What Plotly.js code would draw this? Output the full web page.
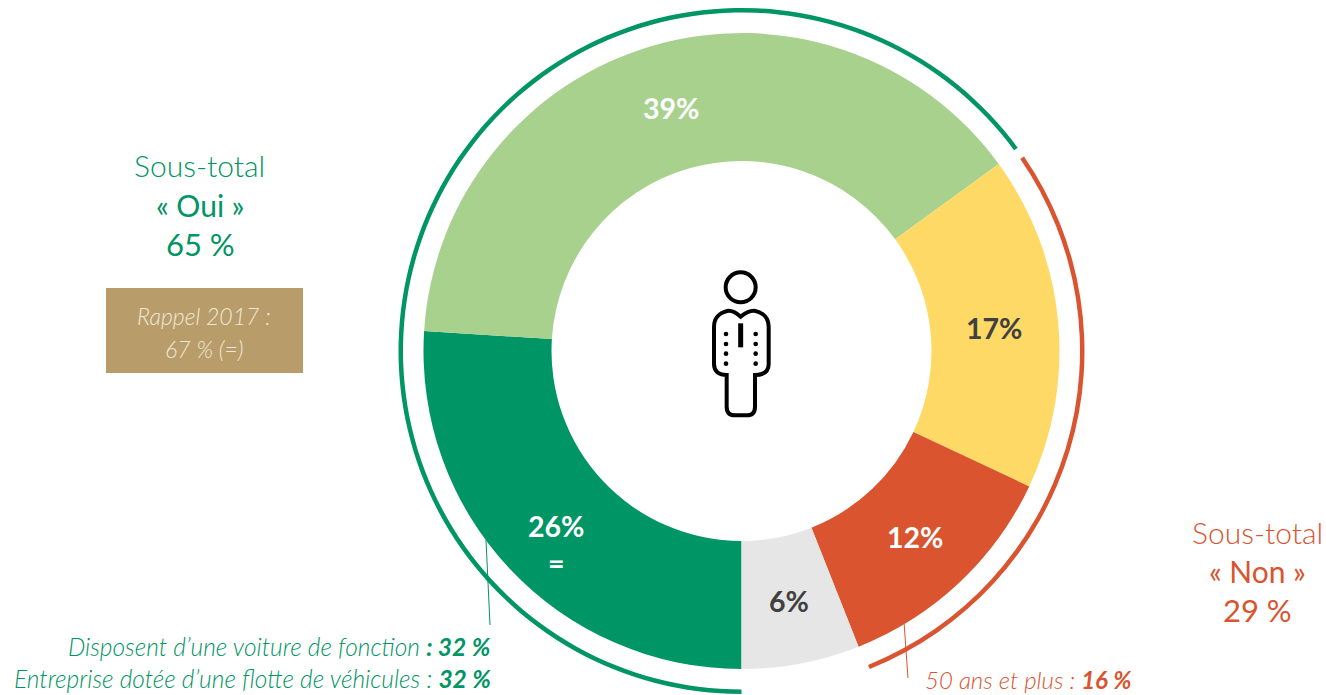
<!DOCTYPE html>
<html lang="fr">
<head>
<meta charset="utf-8">
<title>Sous-total Oui / Non</title>
<script src="https://cdn.plot.ly/plotly-3.0.1.min.js"></script>
<style>html,body{margin:0;padding:0;background:#fff;overflow:hidden}#chart{width:1326px;height:695px}</style>
</head>
<body>
<div id="chart"></div>
<script>
// Data
const sliceNames = ["Oui, tout à fait", "Oui, plutôt", "Non, plutôt pas", "Non, pas du tout", "Ne se prononce pas"];
const sliceValues = [26, 39, 17, 12, 6];
const sliceLabels = ["26%", "39%", "17%", "12%", "6%"];
const sliceMarks = ["=", "", "", "", ""];
const sliceColors = ["#009564", "#A9D18E", "#FFD966", "#D9542F", "#E7E6E6"];
const sliceTextColors = ["#ffffff", "#ffffff", "#404040", "#ffffff", "#404040"];
const arcNames = ["Oui", "gap", "Non", "rest"];
const arcValues = [64.9, 0.5, 28.5, 6.1];
const arcColors = ["#009564", "rgba(0,0,0,0)", "#D9542F", "rgba(0,0,0,0)"];

const W = 1326, H = 695, CX = 741.5, CY = 351;
const R_OUT = 318, R_IN = 190, R_ARC = 343;
const GREEN = "#009564", RED = "#D9542F", FONT = "Lato, 'Open Sans', sans-serif";
const NN = "\u202F";
const px = x => x / W, py = y => 1 - y / H;
const domain = r => ({x: [px(CX - r), px(CX + r)], y: [py(CY + r), py(CY - r)]});

function note(x, y, text, color, size, anchor, weight) {
  return {xref: "paper", yref: "paper", x: px(x), y: py(y), text: text, showarrow: false,
    xanchor: anchor || "center", yanchor: "middle", align: "center",
    font: {family: FONT, size: size, color: color, weight: weight || 300}};
}
function line(x0, y0, x1, y1, color, width) {
  return {type: "line", xref: "paper", yref: "paper", x0: px(x0), y0: py(y0), x1: px(x1), y1: py(y1),
    line: {color: color, width: width}};
}

// Slice labels sit at the middle of each ring segment, found from the values
const total = sliceValues.reduce((a, b) => a + b, 0);
let running = 0;
const sliceNotes = [];
sliceValues.forEach((v, i) => {
  const mid = (180 + (running + v / 2) / total * 360) * Math.PI / 180;
  running += v;
  const r = (R_OUT + R_IN) / 2;
  const x = CX + r * Math.sin(mid), y = CY - r * Math.cos(mid) + 0.5;
  if (sliceMarks[i]) {
    sliceNotes.push(note(x, y + 19, sliceLabels[i] + "<br>" + sliceMarks[i], sliceTextColors[i], 28.5, "center", 700));
  } else {
    sliceNotes.push(note(x, y, sliceLabels[i], sliceTextColors[i], 28.5, "center", 700));
  }
});

// Icon: outline traced in a local frame, mapped to the page
const ix = x => (690 + x / 3), iy = y => (260 + y / 3);
const P = (x, y) => px(ix(x)) + "," + py(iy(y));
const BLACK = "#000000";
const bodyPath = "M" + P(152,170) + " C" + P(140,160) + " " + P(125,150) + " " + P(112,153) +
  " C" + P(88,158) + " " + P(72,175) + " " + P(72,200) + " L" + P(72,312) +
  " C" + P(72,335) + " " + P(88,345) + " " + P(110,345) + " L" + P(110,440) +
  " C" + P(110,458) + " " + P(120,466) + " " + P(135,466) + " L" + P(170,466) +
  " C" + P(185,466) + " " + P(195,458) + " " + P(195,440) + " L" + P(195,345) +
  " C" + P(220,345) + " " + P(236,335) + " " + P(236,312) + " L" + P(236,200) +
  " C" + P(236,175) + " " + P(220,158) + " " + P(196,153) +
  " C" + P(180,150) + " " + P(165,160) + " " + P(152,170) + " Z";
const iconShapes = [
  {type: "circle", xref: "paper", yref: "paper", x0: px(ix(107)), x1: px(ix(197)), y0: py(iy(127)), y1: py(iy(37)),
    line: {color: BLACK, width: 4}},
  {type: "path", xref: "paper", yref: "paper", path: bodyPath, line: {color: BLACK, width: 4}},
  line(ix(152), iy(190), ix(152), iy(262), BLACK, 5)
];
[108, 197].forEach(x => [222, 252, 281, 311].forEach(y => {
  iconShapes.push({type: "circle", xref: "paper", yref: "paper", fillcolor: BLACK,
    x0: px(ix(x - 7)), x1: px(ix(x + 7)), y0: py(iy(y + 7)), y1: py(iy(y - 7)), line: {width: 0}});
}));

const traces = [
  {type: "pie", values: sliceValues, labels: sliceNames, textinfo: "none", sort: false, direction: "clockwise",
    rotation: 180, hole: R_IN / R_OUT, domain: domain(R_OUT), hoverinfo: "skip",
    marker: {colors: sliceColors, line: {width: 0}}},
  {type: "pie", values: arcValues, labels: arcNames, textinfo: "none", sort: false, direction: "clockwise",
    rotation: 180, hole: (R_ARC - 4.5) / R_ARC, domain: domain(R_ARC), hoverinfo: "skip",
    marker: {colors: arcColors, line: {width: 0}}}
];

const layout = {
  width: W, height: H, margin: {l: 0, r: 0, t: 0, b: 0}, showlegend: false,
  paper_bgcolor: "#ffffff", font: {family: FONT},
  shapes: [
    {type: "rect", xref: "paper", yref: "paper", x0: px(106), x1: px(303), y0: py(373), y1: py(288),
      fillcolor: "#B89D6A", line: {width: 0}, layer: "below"},
    line(486, 540, 490, 625, GREEN, 1),
    line(904, 622, 908, 678, RED, 1)
  ].concat(iconShapes),
  annotations: sliceNotes.concat([
    note(199, 165, "Sous-total", GREEN, 30),
    note(200, 205, "«" + NN + "Oui" + NN + "»", GREEN, 30, "center", 400),
    note(200, 244, "65" + NN + "%", GREEN, 31, "center", 400),
    note(204, 316, "<i>Rappel 2017 :</i>", "#EFE8D8", 23),
    note(204, 349, "<i>67 % (=)</i>", "#EFE8D8", 23),
    note(493, 646, "<i>Disposent d’une voiture de fonction <b>: 32 %</b></i>", GREEN, 24.5, "right"),
    note(493, 678, "<i>Entreprise dotée d’une flotte de véhicules : <b>32 %</b></i>", GREEN, 24.5, "right"),
    note(1257, 532, "Sous-total", RED, 30),
    note(1257, 571, "«" + NN + "Non" + NN + "»", RED, 30, "center", 400),
    note(1257, 610, "29" + NN + "%", RED, 31, "center", 400),
    note(1133, 679, "<i>50 ans et plus : <b>16 %</b></i>", RED, 24, "right")
  ])
};
Plotly.newPlot("chart", traces, layout, {displayModeBar: false, staticPlot: true});
</script>
</body>
</html>
